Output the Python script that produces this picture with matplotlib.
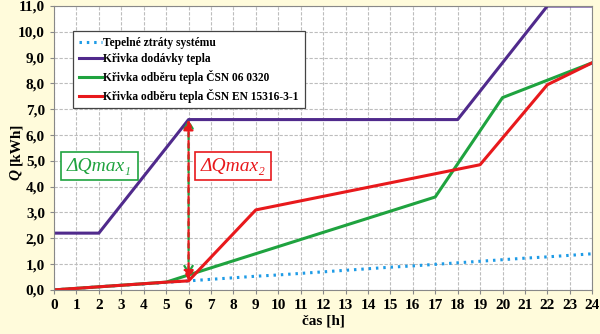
import matplotlib
matplotlib.use("Agg")
import matplotlib.pyplot as plt
from matplotlib.ticker import FuncFormatter, MultipleLocator

# time axis [h]
hours = list(range(25))
# heat losses of the system (hourly)
losses = [0.00, 0.06, 0.12, 0.18, 0.23, 0.29, 0.35, 0.41, 0.47, 0.53, 0.58,
          0.64, 0.70, 0.76, 0.82, 0.88, 0.93, 0.99, 1.05, 1.11, 1.17, 1.23,
          1.28, 1.34, 1.40]

# supply curve
supply_t = [0, 2, 6, 18, 22, 24]
supply_q = [2.2, 2.2, 6.6, 6.6, 11.0, 11.0]

# demand curve ČSN 06 0320
csn_t = [0, 5, 6, 17, 20, 24]
csn_q = [0.0, 0.3, 0.58, 3.6, 7.45, 8.8]

# demand curve ČSN EN 15316-3-1
en_t = [0, 5, 6, 9, 19, 22, 24]
en_q = [0.0, 0.3, 0.35, 3.1, 4.85, 7.95, 8.8]

labels = ["Tepelné ztráty systému", "Křivka dodávky tepla",
          "Křivka odběru tepla ČSN 06 0320",
          "Křivka odběru tepla ČSN EN 15316-3-1"]
box_labels = ["ΔQmax₁", "ΔQmax₂"]

c_blue = "#1E9BE6"
c_purple = "#502A8C"
c_green = "#1FA33F"
c_red = "#E8191C"

plt.rcParams["font.family"] = ["Liberation Serif", "DejaVu Serif"]

fig = plt.figure(figsize=(6, 3.34), dpi=100, facecolor="#FFFBDB")
ax = fig.add_axes([0.09, 0.132, 0.897, 0.85])
ax.set_facecolor("white")

ax.plot(hours, losses, color=c_blue, lw=2.2, ls=(0, (0.8, 1.6)), label=labels[0])
ax.plot(supply_t, supply_q, color=c_purple, lw=2.2, label=labels[1])
ax.plot(csn_t, csn_q, color=c_green, lw=2.2, label=labels[2])
ax.plot(en_t, en_q, color=c_red, lw=2.2, label=labels[3])

# ΔQmax arrows at t = 6 h
ax.annotate("", xy=(6, csn_q[2]), xytext=(6, supply_q[2]),
            arrowprops=dict(arrowstyle="<->,head_length=0.5,head_width=0.3",
                            color=c_green, lw=1.6, ls=(0, (3, 2)),
                            shrinkA=0, shrinkB=0))
ax.annotate("", xy=(6, en_q[2]), xytext=(6, supply_q[2]),
            arrowprops=dict(arrowstyle="<|-|>,head_length=0.6,head_width=0.3",
                            color=c_red, lw=1.6, ls=(1.5, (3, 2)),
                            shrinkA=0, shrinkB=0))

ax.text(2.03, 4.8, box_labels[0], color=c_green, fontsize=14, fontstyle="italic",
        ha="center", va="center",
        bbox=dict(boxstyle="square,pad=0.3", fc="white", ec=c_green, lw=1.2))
ax.text(7.98, 4.8, box_labels[1], color=c_red, fontsize=14, fontstyle="italic",
        ha="center", va="center",
        bbox=dict(boxstyle="square,pad=0.3", fc="white", ec=c_red, lw=1.2))

ax.set_xlim(0, 24)
ax.set_ylim(0, 11)
ax.xaxis.set_major_locator(MultipleLocator(1))
ax.yaxis.set_major_locator(MultipleLocator(1))
ax.yaxis.set_major_formatter(FuncFormatter(lambda v, p: f"{v:.1f}".replace(".", ",")))
ax.grid(True, color="#BDBDBD", lw=0.8, ls=(0, (3, 1.5)))
ax.set_axisbelow(True)
for s in ax.spines.values():
    s.set_color("#888888")
    s.set_linewidth(0.8)
ax.tick_params(length=3, color="#888888", labelsize=11)
for lab in ax.get_xticklabels() + ax.get_yticklabels():
    lab.set_fontweight("bold")

ax.set_xlabel("čas [h]", fontsize=11, fontweight="bold", labelpad=2)
# y label: italic Q followed by the bold unit (reading bottom to top)
ax.text(-0.058, 0.44, "Q ", transform=ax.transAxes, rotation=90,
        fontsize=11, fontweight="bold", fontstyle="italic", ha="right",
        va="bottom", rotation_mode="anchor")
ax.text(-0.058, 0.44, "[kWh]", transform=ax.transAxes, rotation=90,
        fontsize=11, fontweight="bold", ha="left", va="bottom",
        rotation_mode="anchor")

leg = ax.legend(loc="upper left", bbox_to_anchor=(0.035, 0.912), frameon=True,
                fancybox=False, edgecolor="#444444", framealpha=1,
                borderaxespad=0,
                prop={"weight": "bold", "size": 8.3}, handlelength=2.0,
                handletextpad=0.15, borderpad=0.5, labelspacing=0.4)
leg.get_frame().set_linewidth(0.9)

fig.savefig("out.png", dpi=100, facecolor=fig.get_facecolor())
